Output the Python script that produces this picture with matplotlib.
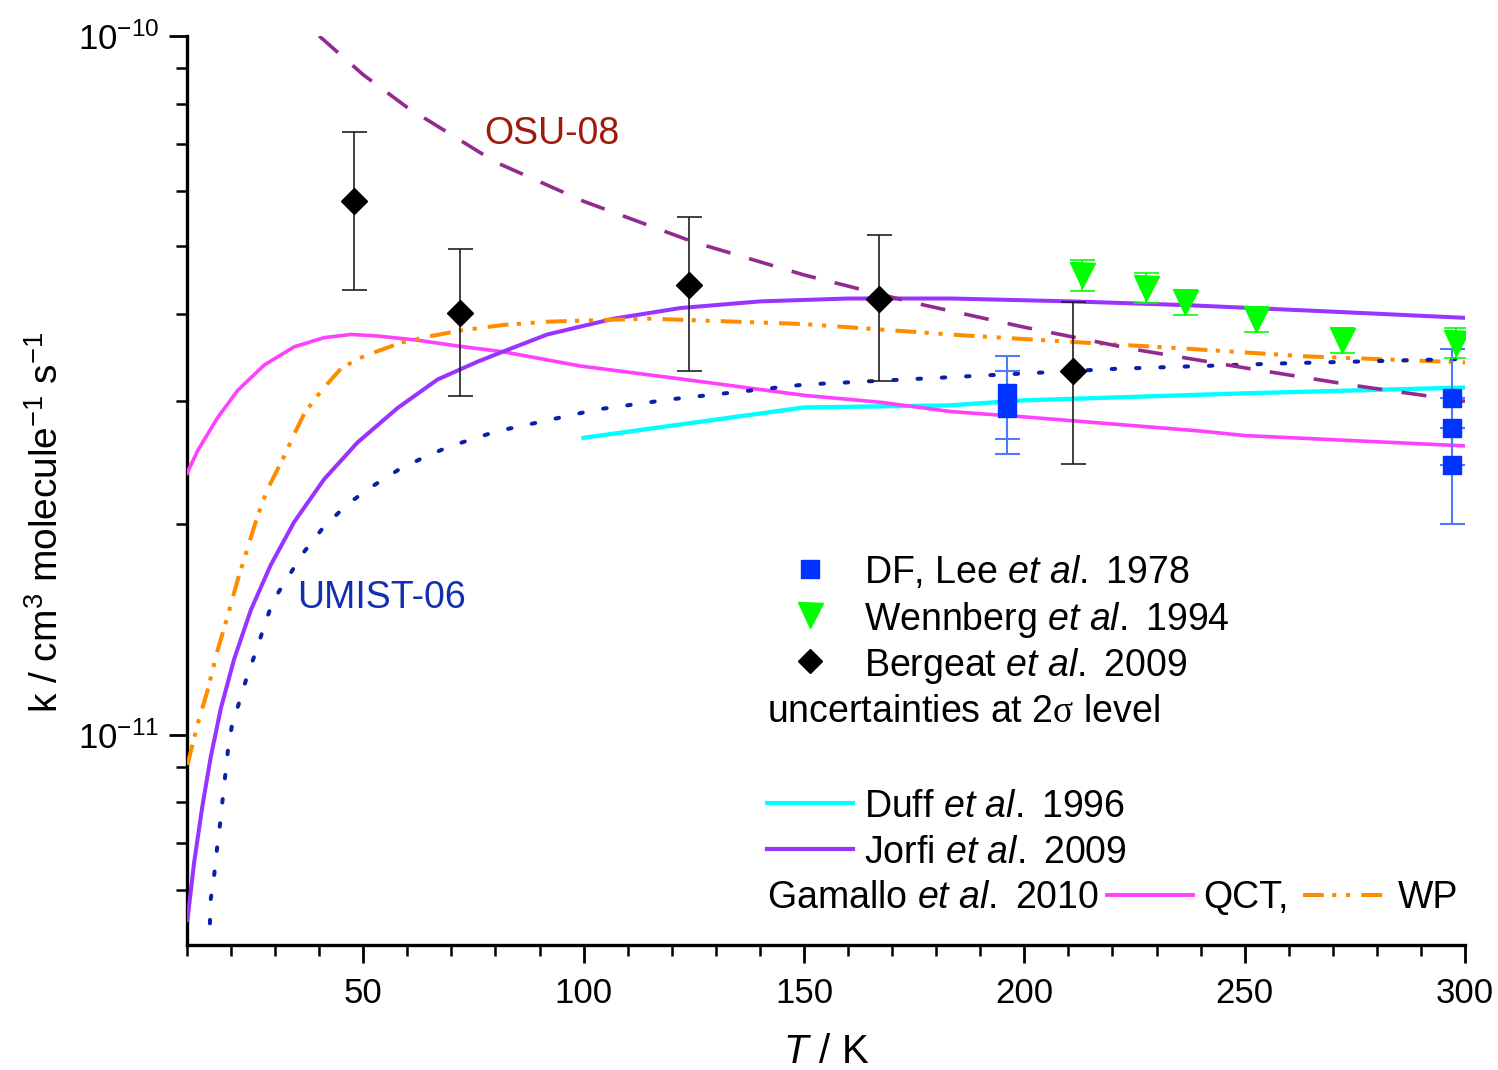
import matplotlib
matplotlib.use("Agg")
import matplotlib.pyplot as plt
from matplotlib.lines import Line2D
from matplotlib.ticker import FixedLocator, NullFormatter, MultipleLocator

plt.rcParams['font.family'] = ['Liberation Sans', 'DejaVu Sans']
plt.rcParams['mathtext.fontset'] = 'custom'
plt.rcParams['mathtext.rm'] = 'Liberation Sans'
plt.rcParams['mathtext.it'] = 'Liberation Sans:italic'
plt.rcParams['mathtext.sf'] = 'Liberation Serif'
plt.rcParams['lines.scale_dashes'] = False

# ---------------- data ----------------
# Bergeat et al. 2009 (black diamonds)
berg_T = [48, 72, 124, 167, 211]
berg_k = [5.81e-11, 4.02e-11, 4.40e-11, 4.21e-11, 3.31e-11]
berg_hi = [7.29e-11, 4.95e-11, 5.51e-11, 5.19e-11, 4.16e-11]
berg_lo = [4.33e-11, 3.05e-11, 3.32e-11, 3.21e-11, 2.44e-11]

# DF, Lee et al. 1978 (blue squares)
lee_T = [196, 196, 297, 297, 297]
lee_k = [3.08e-11, 2.93e-11, 3.03e-11, 2.75e-11, 2.43e-11]
lee_hi = [3.48e-11, 3.32e-11, 3.56e-11, 3.03e-11, 2.75e-11]
lee_lo = [2.65e-11, 2.52e-11, 2.75e-11, 2.43e-11, 2.00e-11]

# Wennberg et al. 1994 (green triangles)
wen_T = [213, 227.5, 236.5, 252.5, 272, 298]
wen_k = [4.55e-11, 4.36e-11, 4.16e-11, 3.93e-11, 3.67e-11, 3.64e-11]
wen_err = [0.05, 0.05, 0.04, 0.04, 0.04, 0.05]

# OSU-08 (dashed)
osu_T = [40, 50, 60, 80, 100, 125, 150, 175, 200, 225, 250, 275, 300]
osu_k = [1.0e-10, 8.8e-11, 7.9e-11, 6.6e-11, 5.8e-11, 5.07e-11, 4.55e-11,
         4.15e-11, 3.83e-11, 3.56e-11, 3.35e-11, 3.16e-11, 3.0e-11]

# UMIST-06 (dotted)
umist_T = [15.2, 15.4, 16.2, 16.8, 17.5, 18.1, 18.7, 19.3, 20.2, 22.0, 23.7,
           25.7, 27.5, 29.5, 33.0, 36.6, 41.0, 46.5, 52.2, 57.8, 63.5, 69.2,
           74.8, 80.5, 86.4, 103, 119.8, 150, 188, 221, 259, 300]
umist_k = [5.37e-12, 5.82e-12, 6.32e-12, 6.86e-12, 7.45e-12, 8.09e-12, 8.77e-12,
           9.51e-12, 1.032e-11, 1.12e-11, 1.216e-11, 1.318e-11, 1.429e-11,
           1.553e-11, 1.684e-11, 1.828e-11, 1.982e-11, 2.14e-11, 2.27e-11,
           2.39e-11, 2.49e-11, 2.58e-11, 2.65e-11, 2.72e-11, 2.77e-11, 2.92e-11,
           3.02e-11, 3.17e-11, 3.26e-11, 3.34e-11, 3.40e-11, 3.45e-11]

# Duff et al. 1996
duff_T = [100, 150, 183, 200, 250, 300]
duff_k = [2.66e-11, 2.94e-11, 2.96e-11, 3.01e-11, 3.08e-11, 3.14e-11]

# Jorfi et al. 2009
jorfi_T = [10.1, 11.6, 13.5, 15.4, 17.7, 20.7, 24.5, 29.0, 34.3, 41.1, 48.7,
           57.8, 66.9, 76.0, 82.0, 91.8, 106.9, 122, 140, 160, 183.4, 210.7,
           236.4, 266.8, 300]
jorfi_k = [5.43e-12, 6.55e-12, 7.91e-12, 9.30e-12, 1.092e-11, 1.283e-11,
           1.509e-11, 1.749e-11, 2.015e-11, 2.32e-11, 2.62e-11, 2.935e-11,
           3.225e-11, 3.42e-11, 3.54e-11, 3.74e-11, 3.94e-11, 4.08e-11,
           4.17e-11, 4.21e-11, 4.21e-11, 4.17e-11, 4.12e-11, 4.04e-11, 3.95e-11]

# Gamallo et al. 2010 QCT
qct_T = [10, 12.4, 16.9, 21.5, 27.5, 34.3, 41.1, 47.2, 53.3, 62.3, 71.4, 82.0,
         99.3, 122, 150, 167.5, 183.4, 200, 240, 250, 300]
qct_k = [2.366e-11, 2.548e-11, 2.84e-11, 3.11e-11, 3.38e-11, 3.59e-11,
         3.70e-11, 3.74e-11, 3.72e-11, 3.67e-11, 3.60e-11, 3.53e-11, 3.37e-11,
         3.23e-11, 3.06e-11, 2.99e-11, 2.90e-11, 2.85e-11, 2.72e-11, 2.68e-11,
         2.59e-11]

# Gamallo et al. 2010 WP
wp_T = [10.1, 12.4, 14.6, 16.9, 19.1, 21.4, 23.7, 26.0, 28.2, 32.0, 34.3, 36.6,
        39.3, 41.9, 44.9, 48.7, 53.3, 58.6, 65.4, 72.2, 82.0, 91.8, 114.5, 150,
        185.7, 213.6, 236.4, 263.6, 300]
wp_k = [9.05e-12, 1.035e-11, 1.153e-11, 1.318e-11, 1.468e-11, 1.657e-11,
        1.845e-11, 2.056e-11, 2.24e-11, 2.50e-11, 2.69e-11, 2.88e-11, 3.04e-11,
        3.18e-11, 3.34e-11, 3.45e-11, 3.54e-11, 3.64e-11, 3.72e-11, 3.79e-11,
        3.86e-11, 3.90e-11, 3.94e-11, 3.87e-11, 3.73e-11, 3.64e-11, 3.57e-11,
        3.48e-11, 3.41e-11]

# axis ticks
y_major = [1e-11, 1e-10]
y_minor = [6e-12, 7e-12, 8e-12, 9e-12, 2e-11, 3e-11, 4e-11, 5e-11, 6e-11,
           7e-11, 8e-11, 9e-11]

# ---------------- figure ----------------
W, H = 1498, 1070
fig = plt.figure(figsize=(W / 100, H / 100), dpi=100)
ax = fig.add_axes([187 / W, 1 - 945 / H, (1465 - 187) / W, (945 - 36) / H])

c_osu = '#922A90'
c_umist = '#0A20A8'
c_duff = '#00FFFF'
c_jorfi = '#9933FF'
c_qct = '#FF40FF'
c_wp = '#FF8C00'
c_lee = '#0033FF'
c_wen = '#00FF00'
wp_dash = (15, 6, 3, 7, 3, 8)

ax.plot(duff_T, duff_k, color=c_duff, lw=3.1, zorder=3)
ax.plot(qct_T, qct_k, color=c_qct, lw=2.6, zorder=3)
ax.plot(jorfi_T, jorfi_k, color=c_jorfi, lw=2.9, zorder=3)
ax.plot(wp_T, wp_k, color=c_wp, lw=2.9, dashes=wp_dash, zorder=3)
ax.plot(umist_T, umist_k, color=c_umist, lw=2.9, dashes=(2.5, 15),
        dash_capstyle='round', zorder=3)
ax.plot(osu_T, osu_k, color=c_osu, lw=2.6, dashes=(18, 14), zorder=3)

# Lee squares
ax.errorbar(lee_T, lee_k,
            yerr=[[k - l for k, l in zip(lee_k, lee_lo)],
                  [h - k for k, h in zip(lee_k, lee_hi)]],
            fmt='none', ecolor='#4D7BFF', elinewidth=1.5, capsize=9, capthick=1.5,
            zorder=4)
ax.plot(lee_T, lee_k, ls='none', marker='s', ms=13.5, color=c_lee, zorder=5)

# Wennberg triangles
ax.errorbar(wen_T, wen_k, yerr=[k * e for k, e in zip(wen_k, wen_err)],
            fmt='none', ecolor=c_wen, elinewidth=1.2, capsize=9, capthick=1.2,
            zorder=4)
ax.plot(wen_T, wen_k, ls='none', marker='v', ms=18, color=c_wen, zorder=5)

# Bergeat diamonds
ax.errorbar(berg_T, berg_k,
            yerr=[[k - l for k, l in zip(berg_k, berg_lo)],
                  [h - k for k, h in zip(berg_k, berg_hi)]],
            fmt='none', ecolor='#202020', elinewidth=1.2, capsize=9, capthick=1.2,
            zorder=4)
ax.plot(berg_T, berg_k, ls='none', marker='D', ms=13, color='black', zorder=6)

# labels on curves
ax.text(77.5, 7.25e-11, 'OSU-08', color='#A01A0C', fontsize=27, va='center', ha='left')
ax.text(35, 1.57e-11, 'UMIST-06', color='#1030B0', fontsize=27, va='center', ha='left')

# axes
ax.set_yscale('log')
ax.set_xlim(10, 300)
ax.set_ylim(5.0e-12, 1.0e-10)
ax.xaxis.set_major_locator(MultipleLocator(50))
ax.xaxis.set_minor_locator(MultipleLocator(10))
ax.yaxis.set_major_locator(FixedLocator(y_major))
ax.yaxis.set_minor_locator(FixedLocator(y_minor))
ax.yaxis.set_minor_formatter(NullFormatter())
for s in ['top', 'right']:
    ax.spines[s].set_visible(False)
for s in ['left', 'bottom']:
    ax.spines[s].set_linewidth(2.4)
ax.tick_params(which='major', length=13, width=2.0, direction='out')
ax.tick_params(which='minor', length=8, width=1.8, direction='out')
ax.tick_params(axis='x', which='major', pad=10, labelsize=25)
ax.tick_params(axis='y', which='major', pad=7, labelsize=25)

ax.set_xlabel(r'$\mathit{T}$ / K', fontsize=29)
ax.xaxis.set_label_coords(0.5, -0.097)
ax.set_ylabel(r'k / cm$^{3}$ molecule$^{-1}$ s$^{-1}$', fontsize=28)
ax.yaxis.set_label_coords(-0.095, 0.465)

# ---------------- legend (figure pixel positions) ----------------
def fx(x):
    return x / W

def fy(y):
    return 1 - y / H

fs = 27
rows = [(569, 's', c_lee, 13.5, r'DF, Lee $\mathit{et\ al.}$ 1978'),
        (615, 'v', c_wen, 18, r'Wennberg $\mathit{et\ al.}$ 1994'),
        (661, 'D', 'black', 12, r'Bergeat $\mathit{et\ al.}$ 2009')]
for y, m, c, ms, lab in rows:
    fig.add_artist(Line2D([fx(810)], [fy(y)], marker=m, ms=ms, color=c, ls='none'))
    fig.text(fx(864), fy(y), lab, fontsize=fs, va='center_baseline', ha='left')
fig.text(fx(767), fy(708), r'uncertainties at 2$\mathsf{\sigma}$ level', fontsize=fs,
         va='center_baseline', ha='left')

for y, c, lab in [(803, c_duff, r'Duff $\mathit{et\ al.}$ 1996'),
                  (849, c_jorfi, r'Jorfi $\mathit{et\ al.}$ 2009')]:
    fig.add_artist(Line2D([fx(767), fx(853)], [fy(y), fy(y)], color=c, lw=3.0))
    fig.text(fx(864), fy(y), lab, fontsize=fs, va='center_baseline', ha='left')

fig.text(fx(767), fy(894), r'Gamallo $\mathit{et\ al.}$ 2010', fontsize=fs,
         va='center_baseline', ha='left')
fig.add_artist(Line2D([fx(1107), fx(1193)], [fy(895), fy(895)], color=c_qct, lw=2.8))
fig.text(fx(1203), fy(894), 'QCT,', fontsize=fs, va='center_baseline', ha='left')
fig.add_artist(Line2D([fx(1303), fx(1388)], [fy(895), fy(895)], color=c_wp, lw=2.9,
                      dashes=wp_dash))
fig.text(fx(1398), fy(894), 'WP', fontsize=fs, va='center_baseline', ha='left')

fig.savefig('out.png', dpi=100)
